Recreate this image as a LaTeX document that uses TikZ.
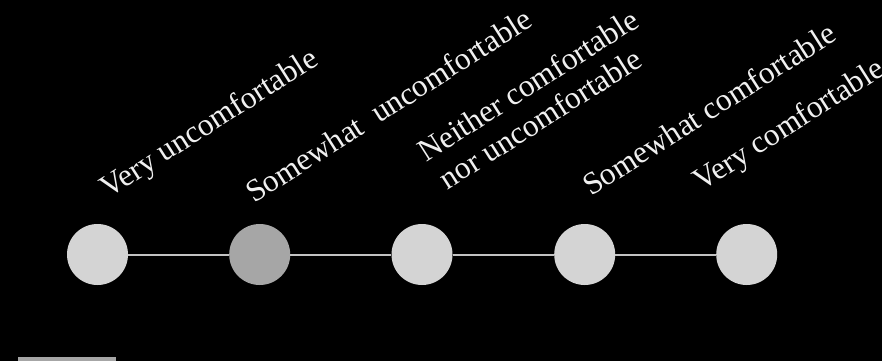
\documentclass[tikz,border=0pt]{standalone}
\usepackage{fontspec}
\setmainfont{Liberation Serif}
\begin{document}
\begin{tikzpicture}[x=1pt,y=1pt,
  dot/.style={circle,fill=#1,draw=none,minimum size=61pt,inner sep=0pt},
  lbl/.style={anchor=base west,rotate=32.5,inner sep=0pt,text=white!94!black,font=\fontsize{31.5}{35}\selectfont,align=left},
  link/.style={draw=black!24,line width=2pt}]
\fill[black] (0,0) rectangle (882,-361);
\useasboundingbox (0,0) rectangle (882,-361);
\node[dot=black!17] (c1) at (97.5,-254.5) {};
\node[dot=black!35] (c2) at (259.7,-254.5) {};
\node[dot=black!17] (c3) at (422,-254.5) {};
\node[dot=black!17] (c4) at (584.7,-254.5) {};
\node[dot=black!17] (c5) at (746.7,-254.5) {};
\draw[link] (c1) -- (c2);
\draw[link] (c2) -- (c3);
\draw[link] (c3) -- (c4);
\draw[link] (c4) -- (c5);
\node[lbl] (l1) at (108,-199) {Very uncomfortable};
\node[lbl] (l2) at (254,-204) {Somewhat\ \ uncomfortable};
\node[lbl] (l3) at (445,-192) {Neither comfortable\\\hspace*{3pt}nor uncomfortable};
\node[lbl] (l4) at (591,-197) {Somewhat comfortable};
\node[lbl] (l5) at (701,-192) {Very comfortable};
\fill[black!35] (18,-357) rectangle (116,-361);
\end{tikzpicture}
\end{document}
